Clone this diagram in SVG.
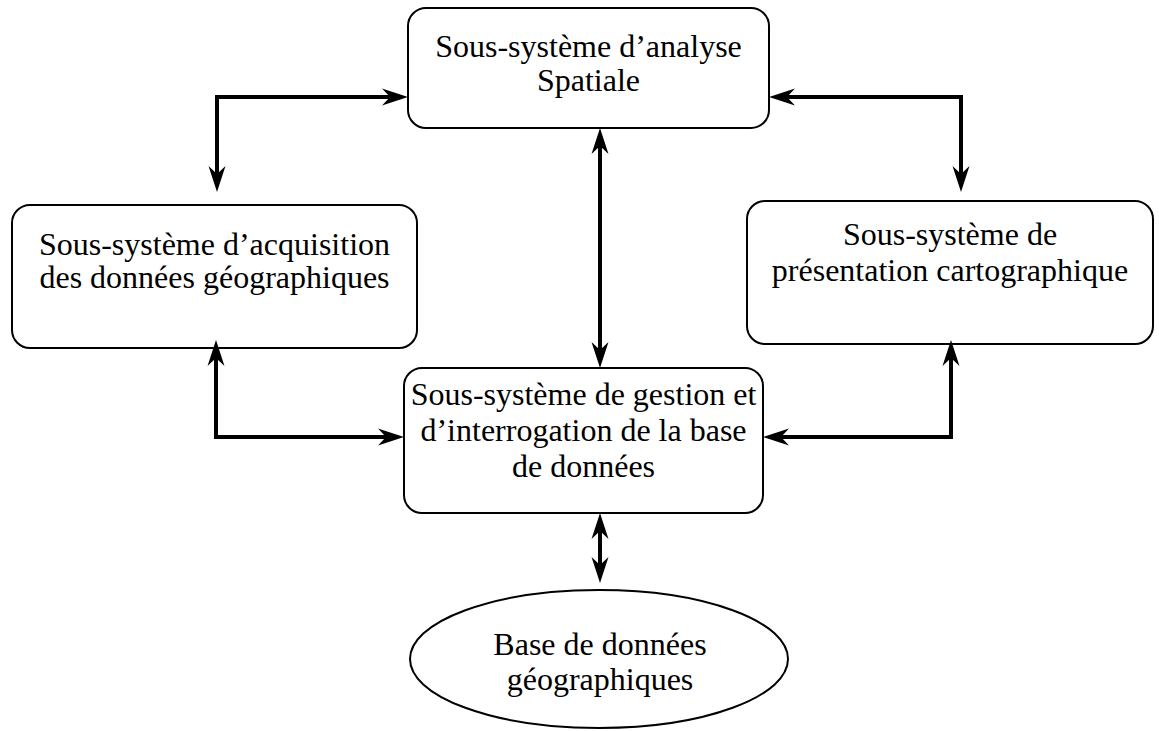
<svg xmlns="http://www.w3.org/2000/svg" width="1159" height="731" viewBox="0 0 1159 731">
<style>
.box{fill:#fff;stroke:#000;stroke-width:2}
.lbl{font-family:"Liberation Serif","Times New Roman",serif;font-size:32px;fill:#000;text-anchor:middle}
.con{fill:none;stroke:#000;stroke-width:4;stroke-linejoin:miter;marker-start:url(#ah);marker-end:url(#ah)}
</style>
<defs>
<marker id="ah" markerUnits="userSpaceOnUse" orient="auto-start-reverse" refX="0" refY="0" markerWidth="40" markerHeight="40" overflow="visible">
<path d="M18,0 L-8,-8.5 L0,0 L-8,8.5 Z" fill="#000"/>
</marker>
</defs>
<rect width="1159" height="731" fill="#fff"/>
<g id="analyse">
<rect class="box" x="408" y="8" width="361" height="120" rx="18"/>
<text class="lbl" x="588.5" y="57">Sous-système d’analyse</text>
<text class="lbl" x="588.5" y="91">Spatiale</text>
</g>
<g id="acquisition">
<rect class="box" x="12" y="205" width="405" height="143" rx="18"/>
<text class="lbl" x="214.5" y="255">Sous-système d’acquisition</text>
<text class="lbl" x="214.5" y="288">des données géographiques</text>
</g>
<g id="presentation">
<rect class="box" x="747" y="201" width="406" height="143" rx="18"/>
<text class="lbl" x="950" y="245">Sous-système de</text>
<text class="lbl" x="950" y="281">présentation cartographique</text>
</g>
<g id="gestion">
<rect class="box" x="404" y="368" width="359" height="145" rx="18"/>
<text class="lbl" x="583.5" y="405">Sous-système de gestion et</text>
<text class="lbl" x="583.5" y="441">d’interrogation de la base</text>
<text class="lbl" x="583.5" y="477">de données</text>
</g>
<g id="base">
<ellipse class="box" cx="599" cy="659" rx="189" ry="69"/>
<text class="lbl" x="600" y="655">Base de données</text>
<text class="lbl" x="600" y="690">géographiques</text>
</g>
<g id="connectors">
<path class="con" d="M390,97 L217,97 L217,174"/>
<path class="con" d="M787,97 L961,97 L961,174"/>
<path class="con" d="M600,146 L600,350"/>
<path class="con" d="M600,531 L600,565"/>
<path class="con" d="M216,358 L216,437 L386,437"/>
<path class="con" d="M951,358 L951,437 L781,437"/>
</g>
</svg>
